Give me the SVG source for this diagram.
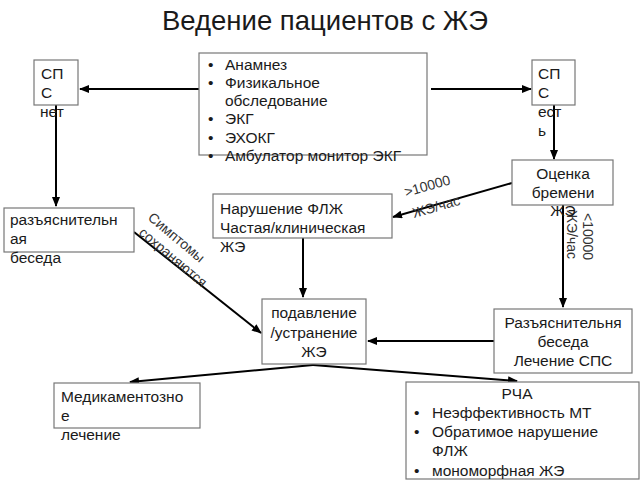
<svg xmlns="http://www.w3.org/2000/svg" width="640" height="480" viewBox="0 0 640 480">
<defs>
<marker id="ah" markerWidth="10" markerHeight="8" refX="9" refY="4" orient="auto" markerUnits="userSpaceOnUse">
<path d="M0,0 L10,4 L0,8 z" fill="#000"/>
</marker>
<style>
.box{fill:#fff;stroke:#777;stroke-width:1.2}
.t{font-family:"Liberation Sans",Arial,sans-serif;font-size:15.5px;fill:#1a1a1a}
.s{font-family:"Liberation Sans",Arial,sans-serif;font-size:14px;fill:#333}
.c{text-anchor:middle}
.ln{stroke:#000;stroke-width:2;fill:none;marker-end:url(#ah)}
</style>
</defs>
<rect width="640" height="480" fill="#fff"/>
<text x="325" y="30" class="t c" style="font-size:27.5px">Ведение пациентов с ЖЭ</text>

<g id="connectors">
<line x1="199" y1="89" x2="80" y2="89" class="ln"/>
<line x1="431" y1="89" x2="531" y2="89" class="ln"/>
<line x1="554" y1="105" x2="554" y2="159" class="ln"/>
<line x1="56" y1="105" x2="56" y2="206" class="ln"/>
<line x1="512" y1="183" x2="393" y2="217" class="ln"/>
<line x1="303" y1="238" x2="303" y2="297" class="ln"/>
<line x1="563" y1="205" x2="563" y2="307" class="ln"/>
<line x1="134" y1="232" x2="261" y2="333" class="ln"/>
<line x1="494" y1="341" x2="368" y2="341" class="ln"/>
<line x1="313" y1="365" x2="130" y2="382" class="ln"/>
<line x1="313" y1="365" x2="517" y2="381" class="ln"/>
<text transform="translate(406,197) rotate(-16)" class="s">&gt;10000</text>
<text transform="translate(414,218) rotate(-16)" class="s">ЖЭ/час</text>
<text transform="translate(583,213) rotate(90)" class="s">&lt;10000</text>
<text transform="translate(567,210) rotate(90)" class="s">ЖЭ/час</text>
<text transform="translate(147,219) rotate(40)" class="s">Симптомы</text>
<text transform="translate(138,234) rotate(40)" class="s">сохраняются</text>
</g>

<g id="n-anamnez">
<rect x="199" y="53" width="228" height="102" class="box"/>
<g class="t">
<text x="208" y="70">•</text><text x="225" y="70">Анамнез</text>
<text x="208" y="88">•</text><text x="225" y="88">Физикальное</text>
<text x="225" y="106">обследование</text>
<text x="208" y="124">•</text><text x="225" y="124">ЭКГ</text>
<text x="208" y="143">•</text><text x="225" y="143">ЭХОКГ</text>
<text x="208" y="161">•</text><text x="225" y="161">Амбулатор монитор ЭКГ</text>
</g>
</g>

<g id="n-sps-net">
<rect x="34" y="60" width="44" height="45" class="box"/>
<text x="41" y="79" class="t">СП</text>
<text x="41" y="98" class="t">С</text>
<text x="40" y="117" class="t">нет</text>
</g>

<g id="n-sps-est">
<rect x="532" y="60" width="43" height="45" class="box"/>
<text x="538" y="79" class="t">СП</text>
<text x="538" y="98" class="t">С</text>
<text x="538" y="117" class="t">ест</text>
<text x="538" y="136" class="t">ь</text>
</g>

<g id="n-ocenka">
<rect x="512" y="160" width="101" height="45" class="box"/>
<text x="563" y="179" class="t c">Оценка</text>
<text x="563" y="198" class="t c">бремени</text>
<text x="563" y="216" class="t c">ЖЭ</text>
</g>

<g id="n-razyasn">
<rect x="4" y="208" width="130" height="44" class="box"/>
<text x="10" y="225" class="t">разъяснительн</text>
<text x="10" y="244" class="t">ая</text>
<text x="10" y="263" class="t">беседа</text>
</g>

<g id="n-narushenie">
<rect x="213" y="194" width="179" height="44" class="box"/>
<text x="220" y="214" class="t">Нарушение ФЛЖ</text>
<text x="220" y="233" class="t">Частая/клиническая</text>
<text x="220" y="252" class="t">ЖЭ</text>
</g>

<g id="n-podavlenie">
<rect x="262" y="299" width="104" height="65" class="box"/>
<text x="314" y="318" class="t c">подавление</text>
<text x="314" y="338" class="t c">/устранение</text>
<text x="314" y="357" class="t c">ЖЭ</text>
</g>

<g id="n-razyasn2">
<rect x="494" y="309" width="138" height="64" class="box"/>
<text x="563" y="328" class="t c">Разъяснительня</text>
<text x="563" y="347" class="t c">беседа</text>
<text x="563" y="366" class="t c">Лечение СПС</text>
</g>

<g id="n-medikament">
<rect x="54" y="383" width="146" height="45" class="box"/>
<text x="61" y="402" class="t">Медикаментозно</text>
<text x="61" y="421" class="t">е</text>
<text x="61" y="440" class="t">лечение</text>
</g>

<g id="n-rcha">
<rect x="406" y="382" width="233" height="97" class="box"/>
<text x="517" y="399" class="t c">РЧА</text>
<text x="414" y="418" class="t">•</text><text x="432" y="418" class="t">Неэффективность  МТ</text>
<text x="414" y="437" class="t">•</text><text x="432" y="437" class="t">Обратимое нарушение</text>
<text x="432" y="456" class="t">ФЛЖ</text>
<text x="414" y="476" class="t">•</text><text x="432" y="476" class="t">мономорфная ЖЭ</text>
</g>
</svg>
